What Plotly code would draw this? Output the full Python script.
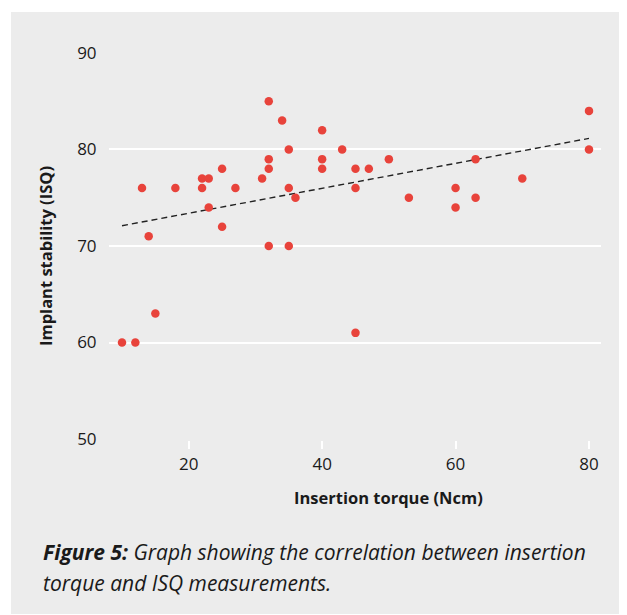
import plotly.graph_objects as go

# Data
torque = [10, 12, 13, 14, 15, 18, 22, 22, 23, 23, 25, 25, 27, 31, 32, 32, 32, 32,
          34, 35, 35, 35, 36, 40, 40, 40, 43, 45, 45, 45, 47, 50, 53, 60, 60, 63,
          63, 70, 80, 80]
isq = [60, 60, 76, 71, 63, 76, 77, 76, 77, 74, 78, 72, 76, 77, 85, 79, 78, 70,
       83, 80, 76, 70, 75, 82, 79, 78, 80, 78, 76, 61, 78, 79, 75, 76, 74, 79,
       75, 77, 84, 80]
trend_x = [10, 80]
trend_y = [72.1, 81.15]
x_ticks = [20, 40, 60, 80]
y_ticks = [50, 60, 70, 80, 90]

OFF = 8  # page body margin
W_FIG, H_FIG = 627 - OFF, 615 - OFF
L, R, T, B = 101, 26, 44, 175
PW = W_FIG - L - R
PH = H_FIG - T - B


def px(x):
    return (x - OFF - L) / PW


def py(y):
    return (H_FIG - B - (y - OFF)) / PH


TXT = "#1a1a1a"
FONT = "Open Sans"

fig = go.Figure()
fig.add_trace(go.Scatter(
    x=trend_x, y=trend_y, mode="lines",
    line=dict(color="#222222", width=1.4, dash="6px,4px"),
    hoverinfo="skip", showlegend=False))
fig.add_trace(go.Scatter(
    x=torque, y=isq, mode="markers",
    marker=dict(color="#e8433b", size=8.5, line=dict(width=0)),
    showlegend=False))

fig.update_layout(
    width=W_FIG, height=H_FIG,
    margin=dict(l=L, r=R, t=T, b=B),
    paper_bgcolor="white",
    plot_bgcolor="rgba(0,0,0,0)",
    font=dict(family=FONT, color=TXT, size=17),
    showlegend=False,
    xaxis=dict(
        range=[8.05, 81.8], tickvals=x_ticks, showgrid=False, zeroline=False,
        showline=False, ticks="outside", ticklen=8, tickwidth=2,
        tickcolor="white", tickfont=dict(size=17, color=TXT),
        ticklabelstandoff=1),
    yaxis=dict(
        range=[49.9, 90.1], tickvals=y_ticks, showgrid=True, gridcolor="white",
        gridwidth=2, zeroline=False, showline=False, ticks="outside",
        ticklen=8, tickcolor="rgba(0,0,0,0)",
        tickfont=dict(size=17, color=TXT)),
    shapes=[dict(type="rect", xref="paper", yref="paper", layer="below",
                 x0=px(11), x1=px(660), y0=py(614), y1=py(12),
                 fillcolor="#ececec", line=dict(width=0))],
    annotations=[
        dict(text="<b>Insertion torque (Ncm)</b>", xref="paper", yref="paper",
             x=px(388), y=py(498), showarrow=False, xanchor="center",
             yanchor="middle", font=dict(size=16.5, color=TXT, family=FONT)),
        dict(text="<b>Implant stability (ISQ)</b>", xref="paper", yref="paper",
             x=px(45), y=py(256), showarrow=False, xanchor="center",
             yanchor="middle", textangle=-90,
             font=dict(size=16.5, color=TXT, family=FONT)),
        dict(text="<b><i>Figure 5:</i></b><i> Graph showing the correlation between insertion</i>",
             xref="paper", yref="paper", x=px(41), y=py(552), showarrow=False,
             xanchor="left", yanchor="middle",
             font=dict(size=21, color=TXT, family=FONT)),
        dict(text="<i>torque and ISQ measurements.</i>",
             xref="paper", yref="paper", x=px(41), y=py(583), showarrow=False,
             xanchor="left", yanchor="middle",
             font=dict(size=21, color=TXT, family=FONT)),
    ],
)

fig.write_html("out.html")
